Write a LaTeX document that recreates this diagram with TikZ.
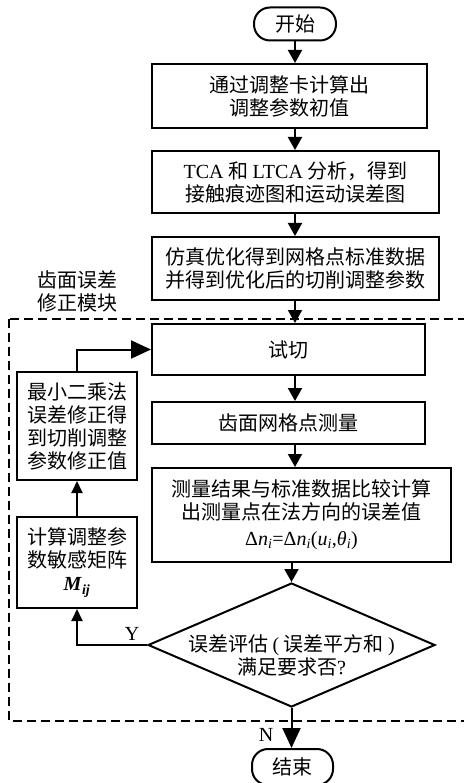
\documentclass[tikz,border=0pt]{standalone}
\usepackage{fontspec}
\setmainfont{Liberation Serif}
\newfontfamily\cjk{Noto Sans CJK SC}
\usetikzlibrary{arrows.meta,shapes.geometric}
\newcommand{\lat}[1]{{\rmfamily #1}}
\begin{document}
\begin{tikzpicture}[x=1pt,y=-1pt,
  txt/.style={font=\cjk\fontsize{20}{23}\selectfont,align=center,inner sep=0pt},
  box/.style={txt,draw,line width=2pt},
  term/.style={box,rounded corners=16pt},
  arr/.style={line width=2pt,-{Triangle[length=13pt,width=14pt]}},
  arrbig/.style={line width=2pt,-{Triangle[length=20pt,width=18pt]}},
  arrsmall/.style={line width=2pt,-{Triangle[length=12pt,width=11pt]}}]
\useasboundingbox (0,0) rectangle (463,783);
% dashed module frame
\draw[line width=2pt,dash pattern=on 9pt off 5pt] (9,319) rectangle (480,721);
\node[txt] (modlbl) at (77,291) {齿面误差\\修正模块};
% main column
\node[term,minimum width=82pt,minimum height=33pt] (start) at (295,24) {开始};
\node[box,minimum width=275pt,minimum height=64pt] (b1) at (289.5,96) {通过调整卡计算出\\调整参数初值};
\node[box,minimum width=287pt,minimum height=62pt] (b2) at (295.5,182) {\lat{TCA} 和 \lat{LTCA} 分析，得到\\接触痕迹图和运动误差图};
\node[box,minimum width=287pt,minimum height=63pt] (b3) at (295.5,268.5) {仿真优化得到网格点标准数据\\并得到优化后的切削调整参数};
\node[box,minimum width=273pt,minimum height=51pt] (trial) at (288.5,349.5) {试切};
\node[box,minimum width=273pt,minimum height=42pt] (meas) at (288.5,423) {齿面网格点测量};
\node[box,minimum width=299pt,minimum height=94pt] (comp) at (301.5,515) {测量结果与标准数据比较计算\\出测量点在法方向的误差值\\[3pt]\lat{Δ\textit{n}\textsubscript{\textit{i}}=Δ\textit{n}\textsubscript{\textit{i}}(\textit{u}\textsubscript{\textit{i}},\textit{θ}\textsubscript{\textit{i}})}};
\node[diamond,draw,line width=2pt,minimum width=287pt,minimum height=124pt,inner sep=0pt,aspect=2.3] (dec) at (291.5,645) {};
\node[txt] (dectxt) at (291.5,655) {误差评估 \lat{(} 误差平方和 \lat{)}\\满足要求否\lat{?}};
\node[term,minimum width=81pt,minimum height=36pt] (stop) at (292.5,767) {结束};
% left column
\node[box,minimum width=120pt,minimum height=108pt] (lsq) at (77,426) {最小二乘法\\误差修正得\\到切削调整\\参数修正值};
\node[box,minimum width=120pt,minimum height=91pt] (calc) at (77,562.5) {计算调整参\\数敏感矩阵\\\lat{\textbf{\textit{M}}\textsubscript{\textbf{\textit{ij}}}}};
% labels
\node[txt,font=\rmfamily\fontsize{20}{23}\selectfont] (ylbl) at (132,634) {Y};
\node[txt,font=\rmfamily\fontsize{20}{23}\selectfont] (nlbl) at (266,735) {N};
% connectors
\draw[arr] (start.south) -- (start.south |- b1.north);
\draw[arr] (b1.south -| start.south) -- (b2.north -| start.south);
\draw[arr] (b2.south -| start.south) -- (b3.north -| start.south);
\draw[arr] (b3.south -| start.south) -- (trial.north -| start.south);
\draw[arr] (trial.south -| start.south) -- (meas.north -| start.south);
\draw[arr] (meas.south -| start.south) -- (comp.north -| start.south);
\draw[arr] (comp.south -| dec.north) -- (dec.north);
\draw[arrbig] (dec.south) -- (stop.north -| dec.south);
\draw[arrsmall] (dec.west) -| (calc.south);
\draw[arrsmall] (calc.north) -- (lsq.south);
\draw[arrbig] (lsq.north) |- (trial.west);
\end{tikzpicture}
\end{document}
